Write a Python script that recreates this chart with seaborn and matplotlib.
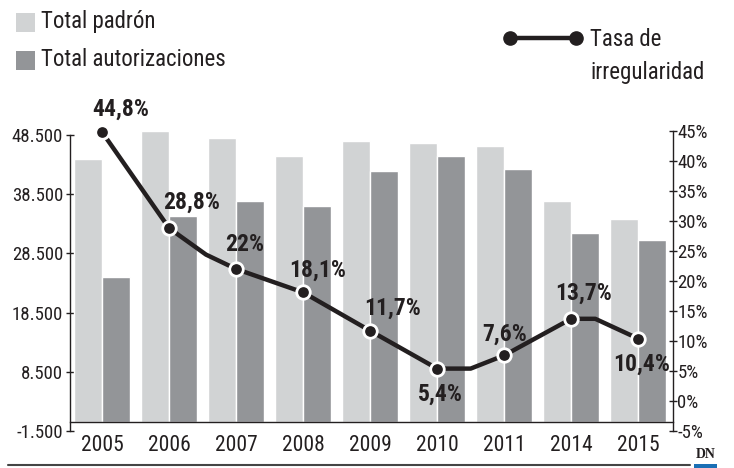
import matplotlib
matplotlib.use('Agg')
import matplotlib.pyplot as plt
import seaborn as sns
import pandas as pd
from matplotlib import font_manager as fm
from matplotlib.patches import Rectangle
from matplotlib.lines import Line2D
from matplotlib.ticker import FuncFormatter

# datos
years = ['2005', '2006', '2007', '2008', '2009', '2010', '2011', '2014', '2015']
padron = [44400, 49150, 47970, 44930, 47460, 47120, 46670, 37400, 34310]
autorizaciones = [24530, 34800, 37400, 36500, 42400, 44930, 42740, 31950, 30770]
tasa = [44.8, 28.8, 22.0, 18.1, 11.7, 5.4, 7.6, 13.7, 10.4]
tasa_labels = ['44,8%', '28,8%', '22%', '18,1%', '11,7%', '5,4%', '7,6%', '13,7%', '10,4%']
# trazo de la línea, con los quiebres intermedios que tiene el original
trazo_x = [0, 1, 1.55, 2, 3, 4, 5, 5.5, 6, 7, 7.36, 8]
trazo_y = [44.8, 28.8, 24.4, 22.0, 18.1, 11.7, 5.4, 5.4, 7.6, 13.7, 13.7, 10.4]

left_ticks = [-1500, 8500, 18500, 28500, 38500, 48500]
right_ticks = [-5, 0, 5, 10, 15, 20, 25, 30, 35, 40, 45]

LIGHT = '#d1d3d4'
DARK = '#939598'
INK = '#231f20'

sns.set_style('white')

# buscar una fuente estrecha (el original usa una condensada)
narrow_kw = ('Narrow', 'Condensed', 'Cond')
cond_stretch = ('condensed', 'semi-condensed', 'extra-condensed', 'ultra-condensed')
prefer = ['Liberation Sans Narrow', 'Roboto Condensed', 'DejaVu Sans Condensed',
          'Noto Sans Condensed', 'Open Sans Condensed']
ttf = fm.fontManager.ttflist
names = {f.name for f in ttf}
family, stretch, narrow = None, 'normal', False
for p in prefer:
    if p in names:
        family, narrow = p, True
        break
if family is None:
    for f in ttf:
        if any(k in f.name for k in narrow_kw) and 'Mono' not in f.name and 'Serif' not in f.name:
            family, narrow = f.name, True
            break
if family is None:
    for f in ttf:
        st = f.stretch
        if (isinstance(st, str) and st in cond_stretch) or (isinstance(st, int) and st < 500):
            if 'Mono' not in f.name and 'Serif' not in f.name:
                family, stretch, narrow = f.name, st, True
                break
if family is None:
    family = 'Roboto'
plt.rcParams['font.family'] = [family, 'DejaVu Sans']
plt.rcParams['font.stretch'] = stretch

k = 1.0 if narrow else 0.82  # fuentes anchas: reducir tamaño

df = pd.DataFrame({
    'year': years * 2,
    'valor': padron + autorizaciones,
    'serie': ['Total padrón'] * len(years) + ['Total autorizaciones'] * len(years),
})

W, H = 734, 468
fig = plt.figure(figsize=(W / 100, H / 100), dpi=100)
ax = fig.add_axes([70 / W, (H - 431) / H, (673 - 70) / W, (431 - 117.2) / H])

sns.barplot(data=df, x='year', y='valor', hue='serie', palette=[LIGHT, DARK],
            width=0.84, saturation=1, ax=ax, legend=False)
ax.set_ylim(-1500, 51500)
ax.set_xlabel('')
ax.set_ylabel('')

ax2 = ax.twinx()
sns.lineplot(x=trazo_x, y=trazo_y, sort=False, color=INK, lw=3.2, ax=ax2, zorder=2)
sns.scatterplot(x=list(range(len(years))), y=tasa, s=95, color=INK, edgecolor='white',
                linewidth=2, ax=ax2, zorder=3)
ax2.set_ylim(-5, 47.3)
ax2.set_xlabel('')
ax2.set_ylabel('')

ax.set_xlim(-0.48, 8.52)

# ejes
for s in ['top', 'right']:
    ax.spines[s].set_visible(False)
for s in ['top', 'left', 'bottom']:
    ax2.spines[s].set_visible(False)
ax.spines['left'].set_bounds(-1500, 48500)
ax.spines['bottom'].set_position(('data', 0))
ax2.spines['right'].set_bounds(-5, 45)
for sp in [ax.spines['left'], ax.spines['bottom'], ax2.spines['right']]:
    sp.set_color(INK)
    sp.set_linewidth(1)

ax.set_yticks(left_ticks)
ax.yaxis.set_major_formatter(FuncFormatter(lambda v, p: f'{v:,.0f}'.replace(',', '.')))
ax.tick_params(axis='y', direction='inout', length=6, width=1, color=INK,
               labelsize=13.5 * k, labelcolor=INK, pad=2)
ax2.set_yticks(right_ticks)
ax2.yaxis.set_major_formatter(FuncFormatter(lambda v, p: f'{v:.0f}%'))
ax2.tick_params(axis='y', direction='inout', length=6, width=1, color=INK,
                labelsize=13.5 * k, labelcolor=INK, pad=0)

ax.set_xticks(range(len(years)))
ax.set_xticklabels(years)
ax.tick_params(axis='x', which='major', length=0, pad=9, labelsize=15.5 * k, labelcolor=INK)
ax.set_xticks([i + 0.5 for i in range(len(years) - 1)], minor=True)
ax.tick_params(axis='x', which='minor', direction='inout', length=8, width=1, color=INK)

# etiquetas de la tasa
offsets = [(19, 23), (22, 26), (8, 24), (14, 22), (22, 23), (3, -26), (0, 21), (12, 26), (3, -26)]
for i, (lab, (dx, dy)) in enumerate(zip(tasa_labels, offsets)):
    ax2.annotate(lab, (i, tasa[i]), xytext=(dx, dy), textcoords='offset pixels',
                 ha='center', va='center', fontsize=17 * k, fontweight='bold', color=INK,
                 zorder=5)

# leyenda
fig.add_artist(Rectangle((16 / W, 1 - 32 / H), 19 / W, 19 / H, transform=fig.transFigure,
                         color=LIGHT, lw=0))
fig.add_artist(Rectangle((16 / W, 1 - 70 / H), 19 / W, 19 / H, transform=fig.transFigure,
                         color=DARK, lw=0))
fig.text(41 / W, 1 - 21.5 / H, 'Total padrón', fontsize=16.5 * k, color=INK, va='center')
fig.text(41 / W, 1 - 60 / H, 'Total autorizaciones', fontsize=16.5 * k, color=INK, va='center')
fig.add_artist(Line2D([510 / W, 576 / W], [1 - 38 / H, 1 - 38 / H], transform=fig.transFigure,
                      color=INK, lw=3.2, marker='o', markersize=9.5))
fig.text(590 / W, 1 - 40 / H, 'Tasa de', fontsize=16.5 * k, color=INK, va='center')
fig.text(590 / W, 1 - 72 / H, 'irregularidad', fontsize=16.5 * k, color=INK, va='center')

# pie
fig.add_artist(Line2D([8 / W, 690 / W], [1 - 465 / H, 1 - 465 / H], transform=fig.transFigure,
                      color='#444444', lw=1.5))
fig.text(705.5 / W, 1 - 455 / H, 'DN', fontsize=10, fontweight='bold', color=INK,
         ha='center', va='center', family=['Liberation Serif', 'DejaVu Serif'],
         stretch='normal')
fig.add_artist(Rectangle((694 / W, 0), 23 / W, 4 / H, transform=fig.transFigure,
                         color='#1a6fb5', lw=0))

fig.savefig('out.png', dpi=100)
